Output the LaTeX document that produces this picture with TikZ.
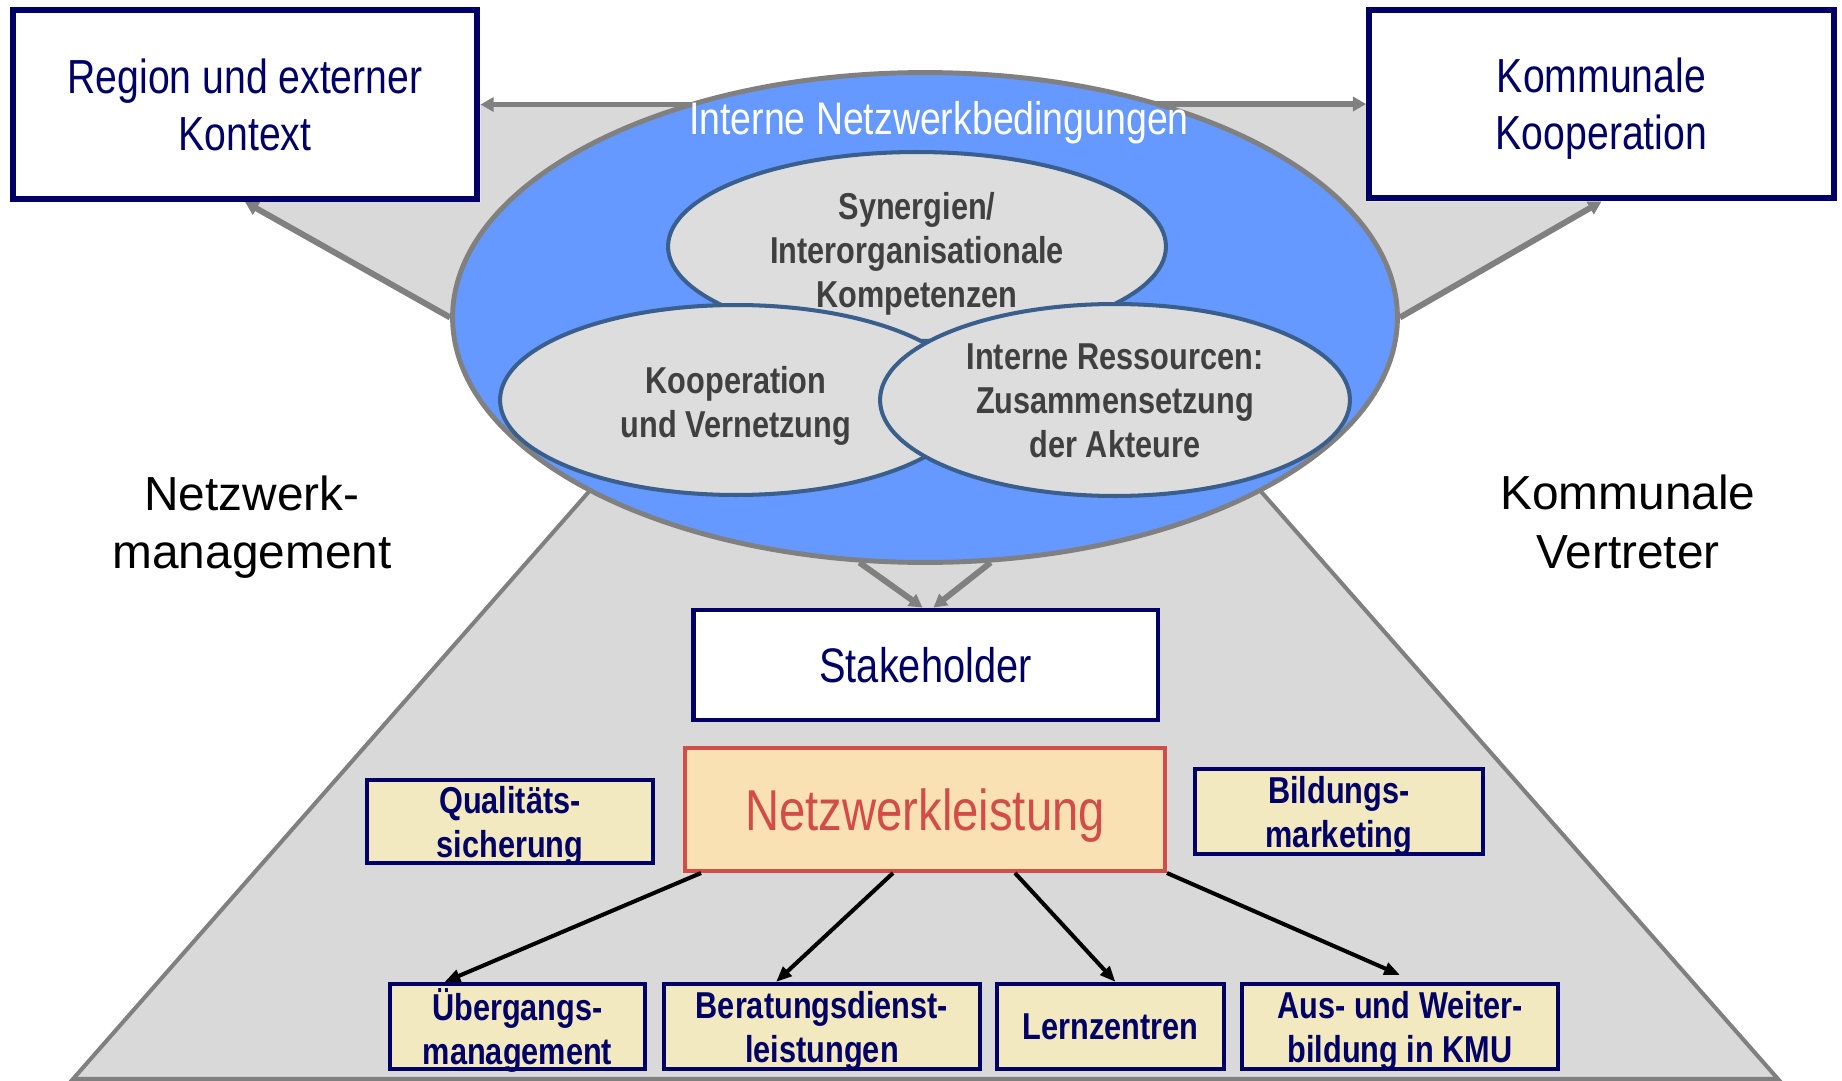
\documentclass[tikz,border=0pt]{standalone}
\usepackage{fontspec}
\setmainfont{Liberation Sans}
\newfontfamily\narrowsf[FakeStretch=0.82]{Liberation Sans}
\usetikzlibrary{arrows.meta}
\usetikzlibrary{shapes.geometric}
\usetikzlibrary{backgrounds,calc}

\definecolor{navy}{RGB}{0,0,102}
\definecolor{bggray}{RGB}{217,217,217}
\definecolor{linegray}{RGB}{128,128,128}
\definecolor{netblue}{RGB}{102,153,255}
\definecolor{ellgray}{RGB}{221,221,221}
\definecolor{ellline}{RGB}{58,95,140}
\definecolor{elltext}{RGB}{64,64,64}
\definecolor{beige}{RGB}{242,233,193}
\definecolor{peach}{RGB}{250,225,180}
\definecolor{leistred}{RGB}{210,76,72}

\newcommand{\topboxfont}{\narrowsf\fontsize{27.2}{32.3}\selectfont}
\newcommand{\stakefont}{\narrowsf\fontsize{27.6}{31}\selectfont}
\newcommand{\leistfont}{\narrowsf\fontsize{32.8}{38}\selectfont}
\newcommand{\headfont}{\narrowsf\fontsize{26}{30}\selectfont}
\newcommand{\sidefont}{\fontsize{27.2}{33.4}\selectfont}
\newcommand{\ellfont}{\narrowsf\bfseries\fontsize{21.3}{25}\selectfont}
\newcommand{\smallboxfont}{\narrowsf\bfseries\fontsize{21.3}{25}\selectfont}

\tikzset{
  topbox/.style={draw=navy, line width=3.4pt, fill=white, inner sep=0pt, text depth=0pt,
    minimum width=9.3cm, minimum height=3.78cm, text=navy, align=center, font=\topboxfont},
  smallbox/.style={draw=navy, line width=2.3pt, fill=beige, inner sep=0pt, text depth=0pt,
    minimum height=1.7cm, text=navy, align=center, font=\smallboxfont},
  netell/.style={ellipse, draw=linegray, line width=2.8pt, fill=netblue, inner sep=0pt,
    minimum width=18.9cm, minimum height=9.8cm},
  innerell/.style={ellipse, draw=ellline, line width=2.3pt, fill=ellgray, inner sep=0pt},
  elllabel/.style={text=elltext, align=center, text depth=0pt, font=\ellfont},
  sidelabel/.style={align=center, font=\sidefont},
  grayarr/.style={draw=linegray, line width=3.4pt, -{Triangle[length=7.5pt,width=8pt]}},
  blackarr/.style={draw=black, line width=2.3pt, -{Triangle[length=9pt,width=7pt]}}
}

\begin{document}
\begin{tikzpicture}[x=0.02cm,y=-0.02cm]
\useasboundingbox (0,0) rectangle (1842,1081);

\node[netell] (netz) at (925,317.5) {};
\node[innerell, minimum width=9.96cm, minimum height=3.78cm] (syn) at (917,246.5) {};
\node[innerell, minimum width=9.44cm, minimum height=3.8cm] (koop) at (736,400) {};
\node[innerell, minimum width=9.4cm, minimum height=3.84cm] (ress) at (1115,400) {};
\node[elllabel] (syntext) at (917,250) {Synergien/\\Interorganisationale\\Kompetenzen};
\node[elllabel] (kooptext) at (736,402) {Kooperation\\und Vernetzung};
\node[elllabel] (resstext) at (1115,401) {Interne Ressourcen:\\Zusammensetzung\\der Akteure};
\node[anchor=base, text=white, font=\headfont] (head) at (939,135) {Interne Netzwerkbedingungen};

\node[topbox] (region) at (245,104.5) {Region und externer\\Kontext};
\node[topbox] (kommkoop) at (1601.5,104) {Kommunale\\Kooperation};
\node[sidelabel] (netzmgmt) at (252,527) {Netzwerk-\\management};
\node[sidelabel] (kommvert) at (1628,522) {Kommunale\\Vertreter};

\node[topbox, line width=2.8pt, minimum height=2.2cm, font=\stakefont] (stake) at (925.5,665) {Stakeholder};
\node[draw=leistred, line width=2.3pt, fill=peach, inner sep=0pt, minimum width=9.6cm,
  minimum height=2.46cm, text depth=0pt, text=leistred, font=\leistfont] (leist) at (925,809.5) {Netzwerkleistung};
\node[smallbox, minimum width=5.72cm, minimum height=1.66cm] (quali) at (510,821.5) {Qualitäts-\\sicherung};
\node[smallbox, minimum width=5.76cm] (bild) at (1339,811.5) {Bildungs-\\marketing};
\node[smallbox, minimum width=5.1cm] (ueber) at (517.5,1026.5) {Übergangs-\\management};
\node[smallbox, minimum width=6.32cm] (berat) at (822,1026.5) {Beratungsdienst-\\leistungen};
\node[smallbox, minimum width=4.54cm] (lern) at (1110.5,1026.5) {Lernzentren};
\node[smallbox, minimum width=6.32cm] (ausw) at (1400,1026.5) {Aus- und Weiter-\\bildung in KMU};

\begin{pgfonlayer}{background}
\coordinate (trapl) at (600,479);
\coordinate (trapr) at (1250,479);
\fill[bggray] (region.south) -- (netz.west) -- (trapl) -- (73,1079) -- (1778,1079) -- (trapr)
  -- (netz.east) -- (kommkoop.south) -- (kommkoop.south west) -- (kommkoop.west)
  -- (region.east) -- (region.south east) -- cycle;
\draw[linegray, line width=2.3pt] (trapl) -- (73,1079) -- (1778,1079) -- (trapr);
\draw[grayarr] (netz.center |- region.east) -- (region.east);
\draw[grayarr] (netz.center |- kommkoop.west) -- (kommkoop.west);
\draw[grayarr] (netz.west) -- (region.south);
\draw[grayarr] (netz.east) -- (kommkoop.south);
\draw[grayarr] (netz.-105) -- ([xshift=-0.06cm]stake.north);
\draw[grayarr] (netz.-75) -- ([xshift=0.16cm]stake.north);
\end{pgfonlayer}

\draw[blackarr] ([xshift=0.36cm]leist.south west) -- ([xshift=-1.46cm]ueber.north);
\draw[blackarr] ([xshift=-0.64cm]leist.south) -- ([xshift=-0.92cm]berat.north);
\draw[blackarr] ([xshift=1.8cm]leist.south) -- ([xshift=0.1cm]lern.north);
\draw[blackarr] (leist.south east) -- ([yshift=0.14cm]ausw.north);
\end{tikzpicture}
\end{document}
